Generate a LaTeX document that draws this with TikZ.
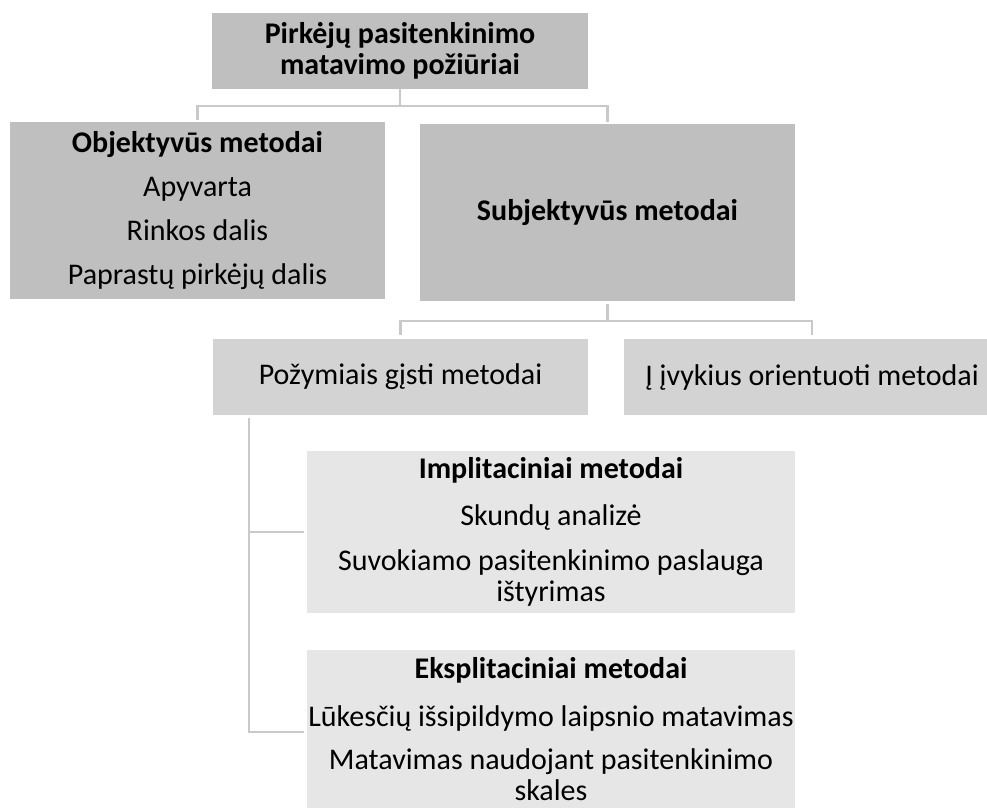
\documentclass[tikz,border=0pt]{standalone}
\usepackage{fontspec}
\setmainfont{Carlito}
\definecolor{boxdark}{HTML}{BFBFBF}
\definecolor{boxmid}{HTML}{D3D3D3}
\definecolor{boxlight}{HTML}{E6E6E6}
\definecolor{linkgray}{HTML}{C9C9C9}
\begin{document}
\begin{tikzpicture}[x=1pt,y=-1pt,
  box/.style={inner sep=0pt,align=center,font=\fontsize{30}{31}\selectfont},
  link/.style={draw=linkgray,line width=2.5pt}]
\useasboundingbox (0,0) rectangle (987,807);
\clip (0,0) rectangle (987,807);

\node[box,fill=boxdark,minimum width=376,minimum height=76] (top) at (400,51)
  {\textbf{Pirkėjų pasitenkinimo}\\\textbf{matavimo požiūriai}};
\node[box,fill=boxdark,minimum width=375,minimum height=177] (obj) at (197.5,210.5)
  {\textbf{Objektyvūs metodai}\\[13pt]Apyvarta\\[13pt]Rinkos dalis\\[13pt]Paprastų pirkėjų dalis};
\node[box,fill=boxdark,minimum width=375,minimum height=177] (subj) at (607.5,212.5)
  {\textbf{Subjektyvūs metodai}};

\node[box,fill=boxmid,minimum width=375,minimum height=76] (pozym) at (400.5,377)
  {Požymiais gįsti metodai};
\node[box,fill=boxmid,minimum width=376,minimum height=76] (ivyk) at (812,377)
  {Į įvykius orientuoti metodai};

\node[box,fill=boxlight,minimum width=488,minimum height=162] (impl) at (551,532)
  {\textbf{Implitaciniai metodai}\\[16pt]Skundų analizė\\[14pt]Suvokiamo pasitenkinimo paslauga\\ištyrimas};
\node[box,fill=boxlight,minimum width=488,minimum height=158] (ekspl) at (551,729)
  {\textbf{Eksplitaciniai metodai}\\[17pt]Lūkesčių išsipildymo laipsnio matavimas\\[12pt]Matavimas naudojant pasitenkinimo\\skales};

\draw[link,shorten >=2pt] (top.south) -- ++(0,17) -| (obj.north);
\draw[link,shorten >=2pt] (top.south) -- ++(0,17) -| (subj.north);
\draw[link,shorten <=3pt,shorten >=4pt] (subj.south) -- ++(0,20) -| (pozym.north);
\draw[link,shorten <=3pt,shorten >=4pt] (subj.south) -- ++(0,20) -| (ivyk.north);

\coordinate (rail) at ([xshift=36]pozym.south west);
\draw[link,shorten <=3pt,shorten >=3pt] (rail) |- ([yshift=-3]ekspl.west);
\draw[link,shorten >=3pt] (rail |- impl.west) -- (impl.west);
\end{tikzpicture}
\end{document}
